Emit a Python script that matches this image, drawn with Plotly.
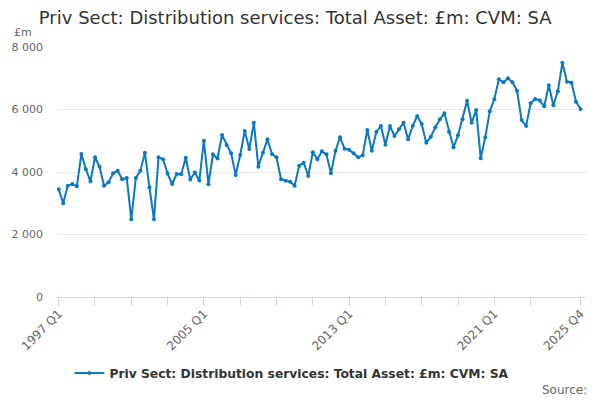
'''
ons-style time series line chart, quarterly 1997 Q1 - 2025 Q4
'''

import plotly.graph_objects as go

title = 'Priv Sect: Distribution services: Total Asset: £m: CVM: SA'
series_name = 'Priv Sect: Distribution services: Total Asset: £m: CVM: SA'

years = list(range(1997, 2026))
quarters = [f'{y} Q{q}' for y in years for q in range(1, 5)]

values = [
    3446, 2998, 3562, 3616, 3542, 4576, 4086, 3702,
    4470, 4170, 3562, 3670, 3958, 4042, 3766, 3808,
    2486, 3808, 4042, 4618, 3510, 2486, 4470, 4406,
    3950, 3616, 3936, 3926, 4458, 3760, 3985, 3730,
    5002, 3610, 4566, 4430, 5184, 4864, 4598, 3904,
    4544, 5312, 4736, 5578, 4170, 4618, 5046, 4576,
    4470, 3770, 3720, 3690, 3562, 4202, 4298, 3872,
    4630, 4406, 4662, 4566, 3958, 4682, 5110, 4746,
    4714, 4598, 4470, 4534, 5344, 4682, 5280, 5472,
    4874, 5472, 5152, 5366, 5578, 5046, 5472, 5792,
    5536, 4938, 5130, 5430, 5686, 5878, 5290, 4790,
    5174, 5686, 6282, 5578, 5984, 4438, 5110, 5942,
    6326, 6966, 6870, 7000, 6870, 6602, 5664, 5472,
    6198, 6336, 6294, 6102, 6774, 6134, 6582, 7498,
    6890, 6858, 6250, 6016,
]

y_ticks = [0, 2000, 4000, 6000, 8000]

# tick marks every 2 years, labels every 8 years plus the last quarter
tick_idx = list(range(0, 105, 8)) + [len(quarters) - 1]
tick_text = [quarters[i] if (i % 32 == 0 or i == len(quarters) - 1) else ''
             for i in tick_idx]

line_colour = '#0a78c2'
font = 'DejaVu Sans'

data = go.Scatter(
    x=list(range(len(quarters))),
    y=values,
    name=series_name,
    mode='lines+markers',
    line=dict(color=line_colour, width=2),
    marker=dict(color=line_colour, size=4),
)

layout = go.Layout(
    width=600,
    height=400,
    margin=dict(l=57, r=14, t=47, b=103),
    separators='. ',
    font=dict(family=font, color='#666666', size=11),
    title={
        'text': title,
        'x': 0.492,
        'xanchor': 'center',
        'y': 0.955,
        'yanchor': 'middle',
        'font': dict(size=18, color='#333333', family=font),
    },
    paper_bgcolor='white',
    plot_bgcolor='white',
    showlegend=True,
    legend=dict(
        orientation='h',
        x=0.444,
        xanchor='center',
        y=-0.304,
        yanchor='middle',
        itemwidth=30,
        font=dict(size=12.3, color='#333333', family=font, weight='bold'),
    ),
    xaxis=dict(
        range=[-0.37, 116.2],
        tickmode='array',
        tickvals=tick_idx,
        ticktext=tick_text,
        tickangle=-45,
        ticks='outside',
        ticklen=8,
        tickcolor='#ccd6eb',
        showline=True,
        linecolor='#ccd6eb',
        linewidth=1,
        showgrid=False,
        zeroline=False,
        ticklabelstandoff=-4,
        tickfont=dict(size=12, color='#666666'),
    ),
    yaxis=dict(
        range=[0, 8000],
        tickvals=y_ticks,
        tickformat=',d',
        showgrid=True,
        gridcolor='#e6e6e6',
        zeroline=False,
        showline=False,
        ticks='',
        ticklabelstandoff=13,
        tickfont=dict(size=11, color='#666666'),
    ),
    annotations=[
        dict(text='£m', xref='paper', yref='paper', x=-0.085, y=1.058,
             xanchor='left', yanchor='middle', showarrow=False,
             font=dict(size=11, color='#666666')),
        dict(text='Source:', xref='paper', yref='paper', x=1.005, y=-0.37,
             xanchor='right', yanchor='middle', showarrow=False,
             font=dict(size=12, color='#666666')),
    ],
)

fig = go.Figure(data=data, layout=layout)
# drop the default browser page margin so the chart sits at the window corner
fig.write_html('out.html', config={'displayModeBar': False},
               post_script="document.body.style.margin='0';")
